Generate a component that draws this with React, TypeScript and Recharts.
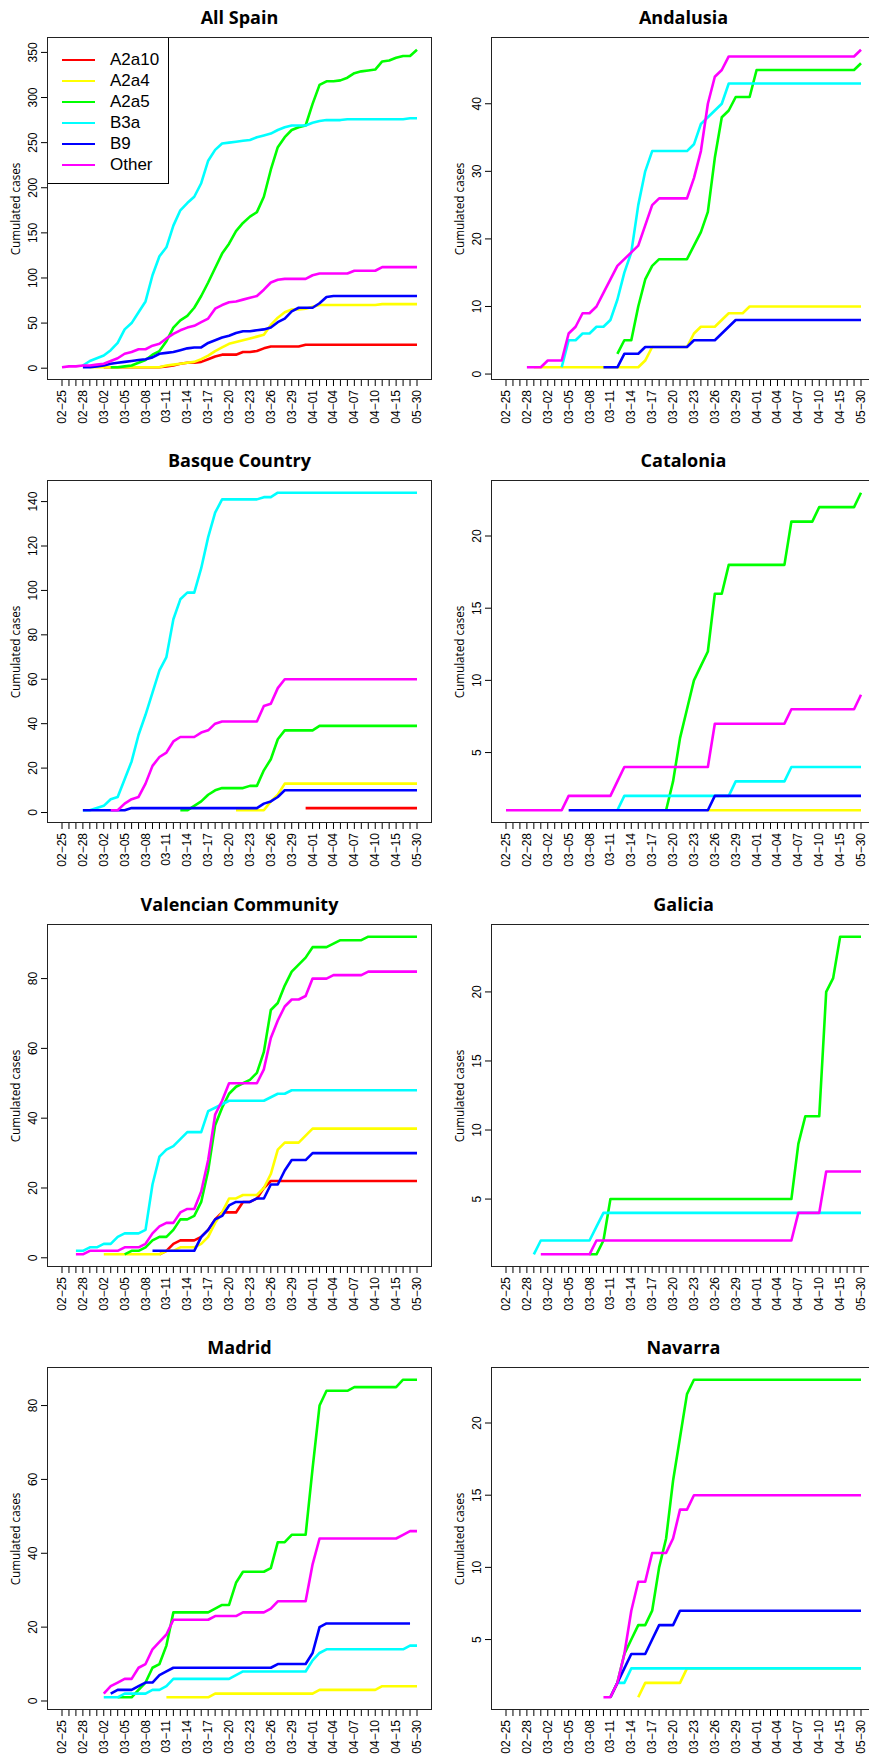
import React from 'react'
import { LineChart, Line, XAxis, YAxis, Legend } from 'recharts'

const dates = [
  '02-25', '02-26', '02-27', '02-28', '02-29', '03-01', '03-02', '03-03', '03-04', '03-05',
  '03-06', '03-07', '03-08', '03-09', '03-10', '03-11', '03-12', '03-13', '03-14', '03-15',
  '03-16', '03-17', '03-18', '03-19', '03-20', '03-21', '03-22', '03-23', '03-24', '03-25',
  '03-26', '03-27', '03-28', '03-29', '03-30', '03-31', '04-01', '04-02', '04-03', '04-04',
  '04-05', '04-06', '04-07', '04-08', '04-09', '04-10', '04-11', '04-13', '04-15', '04-17',
  '04-21', '05-30',
]

// leading empty days before a lineage shows up in a region
const pad = (start: number, values: number[]) =>
  (Array(start).fill(null) as (number | null)[]).concat(values)

const none = pad(52, [])

// All Spain
const spainA2a10 = pad(6, [1, 1, 1, 1, 1, 1, 1, 1, 1, 2, 3, 5, 6, 6, 7, 10, 13, 15, 15, 15, 18, 18, 19, 22, 24, 24, 24, 24, 24, 26, 26, 26, 26, 26, 26, 26, 26, 26, 26, 26, 26, 26, 26, 26, 26, 26])
const spainA2a4 = pad(4, [1, 1, 1, 1, 1, 1, 1, 1, 1, 1, 1, 3, 4, 5, 6, 7, 10, 14, 19, 23, 27, 29, 31, 33, 35, 37, 48, 56, 62, 65, 65, 66, 68, 70, 70, 70, 70, 70, 70, 70, 70, 70, 71, 71, 71, 71, 71, 71])
const spainA2a5 = pad(7, [1, 1, 2, 3, 6, 9, 15, 19, 30, 45, 53, 58, 67, 80, 95, 111, 127, 138, 152, 161, 168, 173, 190, 220, 245, 256, 264, 267, 269, 293, 314, 318, 318, 319, 322, 327, 329, 330, 331, 340, 341, 344, 346, 346, 353])
const spainB3a = pad(3, [3, 8, 11, 14, 20, 28, 43, 50, 62, 74, 103, 124, 134, 158, 175, 183, 190, 205, 230, 242, 249, 250, 251, 252, 253, 256, 258, 260, 264, 267, 269, 269, 269, 272, 274, 275, 275, 275, 276, 276, 276, 276, 276, 276, 276, 276, 276, 277, 277])
const spainB9 = pad(3, [1, 1, 2, 3, 5, 6, 7, 8, 9, 10, 12, 16, 17, 18, 20, 22, 23, 23, 28, 31, 34, 36, 39, 41, 41, 42, 43, 45, 51, 55, 63, 67, 67, 67, 72, 79, 80, 80, 80, 80, 80, 80, 80, 80, 80, 80, 80, 80, 80])
const spainOther = pad(0, [1, 2, 2, 3, 3, 4, 5, 8, 11, 16, 18, 21, 21, 25, 27, 33, 38, 42, 45, 47, 51, 55, 66, 70, 73, 74, 76, 78, 80, 87, 95, 98, 99, 99, 99, 99, 103, 105, 105, 105, 105, 105, 108, 108, 108, 108, 112, 112, 112, 112, 112, 112])

// Andalusia
const andA2a4 = pad(4, [1, 1, 1, 1, 1, 1, 1, 1, 1, 1, 1, 1, 1, 1, 1, 1, 2, 4, 4, 4, 4, 4, 4, 6, 7, 7, 7, 8, 9, 9, 9, 10, 10, 10, 10, 10, 10, 10, 10, 10, 10, 10, 10, 10, 10, 10, 10, 10])
const andA2a5 = pad(16, [3, 5, 5, 10, 14, 16, 17, 17, 17, 17, 17, 19, 21, 24, 32, 38, 39, 41, 41, 41, 45, 45, 45, 45, 45, 45, 45, 45, 45, 45, 45, 45, 45, 45, 45, 46])
const andB3a = pad(8, [1, 5, 5, 6, 6, 7, 7, 8, 11, 15, 18, 25, 30, 33, 33, 33, 33, 33, 33, 34, 37, 38, 39, 40, 43, 43, 43, 43, 43, 43, 43, 43, 43, 43, 43, 43, 43, 43, 43, 43, 43, 43, 43, 43])
const andB9 = pad(14, [1, 1, 1, 3, 3, 3, 4, 4, 4, 4, 4, 4, 4, 5, 5, 5, 5, 6, 7, 8, 8, 8, 8, 8, 8, 8, 8, 8, 8, 8, 8, 8, 8, 8, 8, 8, 8, 8])
const andOther = pad(3, [1, 1, 1, 2, 2, 2, 6, 7, 9, 9, 10, 12, 14, 16, 17, 18, 19, 22, 25, 26, 26, 26, 26, 26, 29, 33, 40, 44, 45, 47, 47, 47, 47, 47, 47, 47, 47, 47, 47, 47, 47, 47, 47, 47, 47, 47, 47, 47, 48])

// Basque Country
const basA2a10 = pad(35, [2, 2, 2, 2, 2, 2, 2, 2, 2, 2, 2, 2, 2, 2, 2, 2, 2])
const basA2a4 = pad(25, [1, 1, 1, 1, 1, 5, 8, 13, 13, 13, 13, 13, 13, 13, 13, 13, 13, 13, 13, 13, 13, 13, 13, 13, 13, 13, 13])
const basA2a5 = pad(17, [1, 1, 3, 5, 8, 10, 11, 11, 11, 11, 12, 12, 19, 24, 33, 37, 37, 37, 37, 37, 39, 39, 39, 39, 39, 39, 39, 39, 39, 39, 39, 39, 39, 39, 39])
const basB3a = pad(3, [1, 1, 2, 3, 6, 7, 15, 23, 35, 44, 54, 64, 70, 87, 96, 99, 99, 110, 124, 135, 141, 141, 141, 141, 141, 141, 142, 142, 144, 144, 144, 144, 144, 144, 144, 144, 144, 144, 144, 144, 144, 144, 144, 144, 144, 144, 144, 144, 144])
const basB9 = pad(3, [1, 1, 1, 1, 1, 1, 1, 2, 2, 2, 2, 2, 2, 2, 2, 2, 2, 2, 2, 2, 2, 2, 2, 2, 2, 2, 4, 5, 7, 10, 10, 10, 10, 10, 10, 10, 10, 10, 10, 10, 10, 10, 10, 10, 10, 10, 10, 10, 10])
const basOther = pad(7, [1, 1, 4, 6, 7, 13, 21, 25, 27, 32, 34, 34, 34, 36, 37, 40, 41, 41, 41, 41, 41, 41, 48, 49, 56, 60, 60, 60, 60, 60, 60, 60, 60, 60, 60, 60, 60, 60, 60, 60, 60, 60, 60, 60, 60])

// Catalonia
const catA2a4 = pad(29, [1, 1, 1, 1, 1, 1, 1, 1, 1, 1, 1, 1, 1, 1, 1, 1, 1, 1, 1, 1, 1, 1, 1])
const catA2a5 = pad(23, [1, 3, 6, 8, 10, 11, 12, 16, 16, 18, 18, 18, 18, 18, 18, 18, 18, 18, 21, 21, 21, 21, 22, 22, 22, 22, 22, 22, 23])
const catB3a = pad(16, [1, 2, 2, 2, 2, 2, 2, 2, 2, 2, 2, 2, 2, 2, 2, 2, 2, 3, 3, 3, 3, 3, 3, 3, 3, 4, 4, 4, 4, 4, 4, 4, 4, 4, 4, 4])
const catB9 = pad(9, [1, 1, 1, 1, 1, 1, 1, 1, 1, 1, 1, 1, 1, 1, 1, 1, 1, 1, 1, 1, 1, 2, 2, 2, 2, 2, 2, 2, 2, 2, 2, 2, 2, 2, 2, 2, 2, 2, 2, 2, 2, 2, 2])
const catOther = pad(0, [1, 1, 1, 1, 1, 1, 1, 1, 1, 2, 2, 2, 2, 2, 2, 2, 3, 4, 4, 4, 4, 4, 4, 4, 4, 4, 4, 4, 4, 4, 7, 7, 7, 7, 7, 7, 7, 7, 7, 7, 7, 8, 8, 8, 8, 8, 8, 8, 8, 8, 8, 9])

// Valencian Community
const valA2a10 = pad(14, [1, 2, 4, 5, 5, 5, 6, 8, 11, 13, 13, 13, 16, 16, 17, 20, 22, 22, 22, 22, 22, 22, 22, 22, 22, 22, 22, 22, 22, 22, 22, 22, 22, 22, 22, 22, 22, 22])
const valA2a4 = pad(6, [1, 1, 1, 1, 1, 1, 1, 1, 1, 2, 2, 3, 3, 3, 4, 6, 10, 13, 17, 17, 18, 18, 18, 20, 24, 31, 33, 33, 33, 35, 37, 37, 37, 37, 37, 37, 37, 37, 37, 37, 37, 37, 37, 37, 37, 37])
const valA2a5 = pad(9, [1, 2, 2, 3, 5, 6, 6, 8, 11, 11, 12, 16, 25, 38, 43, 47, 49, 50, 51, 53, 59, 71, 73, 78, 82, 84, 86, 89, 89, 89, 90, 91, 91, 91, 91, 92, 92, 92, 92, 92, 92, 92, 92])
const valB3a = pad(2, [2, 2, 3, 3, 4, 4, 6, 7, 7, 7, 8, 21, 29, 31, 32, 34, 36, 36, 36, 42, 43, 44, 45, 45, 45, 45, 45, 45, 46, 47, 47, 48, 48, 48, 48, 48, 48, 48, 48, 48, 48, 48, 48, 48, 48, 48, 48, 48, 48, 48])
const valB9 = pad(13, [2, 2, 2, 2, 2, 2, 2, 6, 8, 11, 12, 15, 16, 16, 16, 17, 17, 21, 21, 25, 28, 28, 28, 30, 30, 30, 30, 30, 30, 30, 30, 30, 30, 30, 30, 30, 30, 30, 30])
const valOther = pad(2, [1, 1, 2, 2, 2, 2, 2, 3, 3, 3, 4, 7, 9, 10, 10, 13, 14, 14, 19, 28, 41, 45, 50, 50, 50, 50, 50, 54, 63, 68, 72, 74, 74, 75, 80, 80, 80, 81, 81, 81, 81, 81, 82, 82, 82, 82, 82, 82, 82, 82])

// Galicia
const galA2a5 = pad(12, [1, 1, 2, 5, 5, 5, 5, 5, 5, 5, 5, 5, 5, 5, 5, 5, 5, 5, 5, 5, 5, 5, 5, 5, 5, 5, 5, 5, 5, 5, 9, 11, 11, 11, 20, 21, 24, 24, 24, 24])
const galB3a = pad(4, [1, 2, 2, 2, 2, 2, 2, 2, 2, 3, 4, 4, 4, 4, 4, 4, 4, 4, 4, 4, 4, 4, 4, 4, 4, 4, 4, 4, 4, 4, 4, 4, 4, 4, 4, 4, 4, 4, 4, 4, 4, 4, 4, 4, 4, 4, 4, 4])
const galOther = pad(5, [1, 1, 1, 1, 1, 1, 1, 1, 2, 2, 2, 2, 2, 2, 2, 2, 2, 2, 2, 2, 2, 2, 2, 2, 2, 2, 2, 2, 2, 2, 2, 2, 2, 2, 2, 2, 2, 4, 4, 4, 4, 7, 7, 7, 7, 7, 7])

// Madrid
const madA2a4 = pad(15, [1, 1, 1, 1, 1, 1, 1, 2, 2, 2, 2, 2, 2, 2, 2, 2, 2, 2, 2, 2, 2, 2, 3, 3, 3, 3, 3, 3, 3, 3, 3, 4, 4, 4, 4, 4, 4])
const madA2a5 = pad(8, [1, 1, 1, 3, 5, 9, 10, 15, 24, 24, 24, 24, 24, 24, 25, 26, 26, 32, 35, 35, 35, 35, 36, 43, 43, 45, 45, 45, 63, 80, 84, 84, 84, 84, 85, 85, 85, 85, 85, 85, 85, 87, 87, 87])
const madB3a = pad(6, [1, 1, 1, 2, 2, 2, 2, 3, 3, 4, 6, 6, 6, 6, 6, 6, 6, 6, 6, 7, 8, 8, 8, 8, 8, 8, 8, 8, 8, 8, 11, 13, 14, 14, 14, 14, 14, 14, 14, 14, 14, 14, 14, 14, 15, 15])
const madB9 = pad(7, [2, 3, 3, 3, 4, 5, 5, 7, 8, 9, 9, 9, 9, 9, 9, 9, 9, 9, 9, 9, 9, 9, 9, 9, 10, 10, 10, 10, 10, 13, 20, 21, 21, 21, 21, 21, 21, 21, 21, 21, 21, 21, 21, 21])
const madOther = pad(6, [2, 4, 5, 6, 6, 9, 10, 14, 16, 18, 22, 22, 22, 22, 22, 22, 23, 23, 23, 23, 24, 24, 24, 24, 25, 27, 27, 27, 27, 27, 37, 44, 44, 44, 44, 44, 44, 44, 44, 44, 44, 44, 44, 45, 46, 46])

// Navarra
const navA2a4 = pad(19, [1, 2, 2, 2, 2, 2, 2, 3, 3, 3, 3, 3, 3, 3, 3, 3, 3, 3, 3, 3, 3, 3, 3, 3, 3, 3, 3, 3, 3, 3, 3, 3, 3])
const navA2a5 = pad(15, [1, 2, 4, 5, 6, 6, 7, 10, 12, 16, 19, 22, 23, 23, 23, 23, 23, 23, 23, 23, 23, 23, 23, 23, 23, 23, 23, 23, 23, 23, 23, 23, 23, 23, 23, 23, 23])
const navB3a = pad(16, [2, 2, 3, 3, 3, 3, 3, 3, 3, 3, 3, 3, 3, 3, 3, 3, 3, 3, 3, 3, 3, 3, 3, 3, 3, 3, 3, 3, 3, 3, 3, 3, 3, 3, 3, 3])
const navB9 = pad(15, [1, 2, 3, 4, 4, 4, 5, 6, 6, 6, 7, 7, 7, 7, 7, 7, 7, 7, 7, 7, 7, 7, 7, 7, 7, 7, 7, 7, 7, 7, 7, 7, 7, 7, 7, 7, 7])
const navOther = pad(14, [1, 1, 2, 4, 7, 9, 9, 11, 11, 11, 12, 14, 14, 15, 15, 15, 15, 15, 15, 15, 15, 15, 15, 15, 15, 15, 15, 15, 15, 15, 15, 15, 15, 15, 15, 15, 15, 15])

const SERIES = [
  { key: 'A2a10', color: '#FF0000' },
  { key: 'A2a4', color: '#FFFF00' },
  { key: 'A2a5', color: '#00FF00' },
  { key: 'B3a', color: '#00FFFF' },
  { key: 'B9', color: '#0000FF' },
  { key: 'Other', color: '#FF00FF' },
]

const PANELS = [
  { title: 'All Spain', ticks: [0, 50, 100, 150, 200, 250, 300, 350], lines: [spainA2a10, spainA2a4, spainA2a5, spainB3a, spainB9, spainOther], legend: true },
  { title: 'Andalusia', ticks: [0, 10, 20, 30, 40], lines: [none, andA2a4, andA2a5, andB3a, andB9, andOther] },
  { title: 'Basque Country', ticks: [0, 20, 40, 60, 80, 100, 120, 140], lines: [basA2a10, basA2a4, basA2a5, basB3a, basB9, basOther] },
  { title: 'Catalonia', ticks: [5, 10, 15, 20], lines: [none, catA2a4, catA2a5, catB3a, catB9, catOther] },
  { title: 'Valencian Community', ticks: [0, 20, 40, 60, 80], lines: [valA2a10, valA2a4, valA2a5, valB3a, valB9, valOther] },
  { title: 'Galicia', ticks: [5, 10, 15, 20], lines: [none, none, galA2a5, galB3a, none, galOther] },
  { title: 'Madrid', ticks: [0, 20, 40, 60, 80], lines: [none, madA2a4, madA2a5, madB3a, madB9, madOther] },
  { title: 'Navarra', ticks: [5, 10, 15, 20], lines: [none, navA2a4, navA2a5, navB3a, navB9, navOther] },
]

const COL_X = [47, 491]
const ROW_Y = [37, 480, 924, 1367]
const PLOT_W = 385
const PLOT_H = 343
const AXIS_W = 44
const AXIS_H = 56
const TOP = 4
const RIGHT = 4

const tickFont = '"Liberation Sans", Arial, sans-serif'
const textFont = '"Open Sans", "Noto Sans", sans-serif'

const XTick = (props: any) => {
  const { x, y, payload } = props
  const i = dates.indexOf(payload.value)
  if (i % 3 !== 0) return <g />
  return (
    <text x={x} y={y} transform={`rotate(-90, ${x}, ${y})`} textAnchor="end" dominantBaseline="central"
      fontSize={12} fontFamily={tickFont} fill="#000">
      {String(payload.value).replace('-', '\u2212')}
    </text>
  )
}

const YTick = (props: any) => {
  const { x, y, payload } = props
  const cx = x - 6
  return (
    <text x={cx} y={y} transform={`rotate(-90, ${cx}, ${y})`} textAnchor="middle" dominantBaseline="central"
      fontSize={12} fontFamily={tickFont} fill="#000">
      {payload.value}
    </text>
  )
}

const LegendBox = () => (
  <div style={{ position: 'relative', width: 122, height: 147, border: '1px solid #000', boxSizing: 'border-box', background: '#fff' }}>
    {SERIES.map((s, k) => (
      <div key={s.key} style={{ position: 'absolute', left: 0, top: 21.5 + k * 21 - 11, height: 22, width: 120 }}>
        <div style={{ position: 'absolute', left: 14, top: 10, width: 33, height: 2, background: s.color }} />
        <div style={{ position: 'absolute', left: 62, top: 0, lineHeight: '22px', fontSize: 17, fontFamily: tickFont, color: '#000' }}>{s.key}</div>
      </div>
    ))}
  </div>
)

const Panel = ({ panel, col, row }: { panel: any; col: number; row: number }) => {
  const px = COL_X[col]
  const py = ROW_Y[row]
  const rows = dates.map((d, i) => {
    const r: any = { date: d }
    SERIES.forEach((s, k) => { r[s.key] = panel.lines[k][i] })
    return r
  })
  const vals = (panel.lines as (number | null)[][]).flat().filter((v) => v !== null) as number[]
  const lo = Math.min(...vals)
  const hi = Math.max(...vals)
  const ext = (hi - lo) * 0.04
  return (
    <>
      <div style={{ position: 'absolute', left: px, top: py - 30, width: PLOT_W, lineHeight: '20px', textAlign: 'center',
        fontFamily: textFont, fontWeight: 700, fontSize: 18, color: '#000' }}>{panel.title}</div>
      <div style={{ position: 'absolute', left: px - 32 - 100, top: py + PLOT_H / 2 - 8, width: 200, lineHeight: '16px',
        textAlign: 'center', transform: 'rotate(-90deg)', fontFamily: textFont, fontSize: 11.7, color: '#000' }}>Cumulated cases</div>
      <div style={{ position: 'absolute', left: px - AXIS_W, top: py - TOP }}>
        <LineChart width={AXIS_W + PLOT_W + RIGHT} height={TOP + PLOT_H + AXIS_H} data={rows}
          margin={{ top: TOP, right: RIGHT, bottom: 0, left: 0 }}>
          <XAxis dataKey="date" interval={0} height={AXIS_H} padding={{ left: 15, right: 15 }}
            axisLine={false} tickLine={{ stroke: '#000' }} tickSize={6} tickMargin={4} tick={<XTick />} />
          <YAxis type="number" domain={[lo - ext, hi + ext]} ticks={panel.ticks} interval={0} width={AXIS_W}
            allowDataOverflow axisLine={false} tickLine={{ stroke: '#000' }} tickSize={6} tickMargin={2} tick={<YTick />} />
          {SERIES.map((s) => (
            <Line key={s.key} dataKey={s.key} name={s.key} stroke={s.color} strokeWidth={2.6} dot={false} activeDot={false}
              connectNulls={false} isAnimationActive={false} strokeLinejoin="round" />
          ))}
          {panel.legend && (
            <Legend layout="horizontal" verticalAlign="middle" align="center" content={<LegendBox />}
              wrapperStyle={{ left: AXIS_W, top: TOP, width: 122, height: 147 }} />
          )}
        </LineChart>
      </div>
      <div style={{ position: 'absolute', left: px, top: py, width: PLOT_W, height: PLOT_H, border: '1px solid #222',
        boxSizing: 'border-box', pointerEvents: 'none' }} />
    </>
  )
}

export default function App() {
  return (
    <div style={{ position: 'absolute', left: 0, top: 0, width: 869, height: 1758, overflow: 'hidden', background: '#fff' }}>
      {PANELS.map((p, k) => (
        <Panel key={p.title} panel={p} col={k % 2} row={Math.floor(k / 2)} />
      ))}
    </div>
  )
}
